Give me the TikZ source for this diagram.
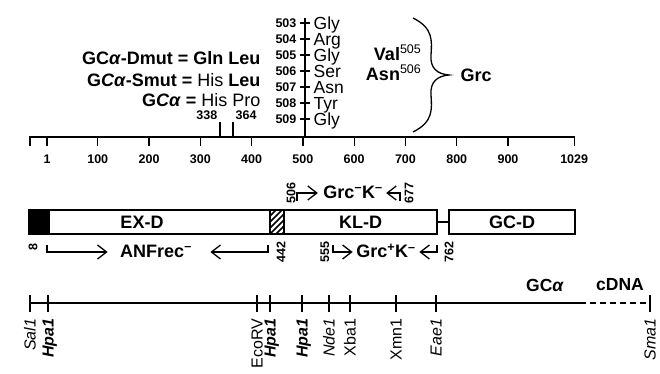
\documentclass[tikz,border=0pt]{standalone}
\usepackage{fontspec}
\setmainfont{Liberation Sans}
\usetikzlibrary{arrows.meta,positioning}
\newcommand\fsz[1]{\fontsize{#1}{#1}\selectfont}
\tikzset{
  bignote/.style={font=\fsz{18}\bfseries,inner sep=0pt},
  resid/.style={font=\fsz{17.5},inner sep=0pt},
  resnum/.style={font=\fsz{12.5}\bfseries,inner sep=0pt},
  axnum/.style={font=\fsz{12.5}\bfseries,inner sep=0pt},
  rotnum/.style={font=\fsz{12.5}\bfseries,inner sep=0pt,rotate=90},
  site/.style={font=\fsz{16},inner sep=0pt,rotate=90,anchor=base east},
  dombox/.style={draw,line width=1.3pt,minimum height=24pt,inner sep=0pt,font=\fsz{18}\bfseries},
  cons/.style={-{Straight Barb[length=9pt,width=14pt]}},
}

\begin{document}
\begin{tikzpicture}[x=1pt,y=-1pt,line width=1.3pt]
\useasboundingbox (0,0) rectangle (660,373);
% residues 503-509
\draw (305,18) -- (305,137);
\foreach \i/\aa in {0/Gly,1/Arg,2/Gly,3/Ser,4/Asn,5/Tyr,6/Gly}{
  \pgfmathtruncatemacro\num{503+\i}
  \draw (300,{23+16*\i}) -- (310,{23+16*\i});
  \node[resnum,anchor=base east] (n\num) at (297,{27.5+16*\i}) {\num};
  \node[resid,anchor=base west] (r\num) at (313,{29+16*\i}) {\aa};
}
\node[bignote,anchor=base east] (dmut) at (261,64) {GC\textit{α}-Dmut = Gln Leu};
\node[bignote,anchor=base east] (smut) at (261,86) {G\textit{Cα}-Smut = \mdseries His \bfseries Leu};
\node[bignote,anchor=base east] (wt) at (261,106) {G\textit{Cα} = \mdseries His Pro};
\node[bignote,anchor=base east] (val) at (422,60) {Val\textsuperscript{\mdseries\fsz{12.5}505}};
\node[bignote,anchor=base east] (asn) at (422,80) {Asn\textsuperscript{\mdseries\fsz{12.5}506}};
\draw (413,18) .. controls (433,28) and (432,40) .. (431,55)
  .. controls (430,68) and (437,74) .. (449,75)
  .. controls (437,76) and (430,82) .. (431,95)
  .. controls (432,110) and (433,122) .. (413,132);
\node[bignote,anchor=west] (grc) at (460,75) {Grc};
% residue axis
\draw (30,146) -- (30,137) -- (575,137);
\foreach \n in {1,100,200,300,400,500,600,700,800,900,1029}{
  \draw ({47+0.5128*(\n-1)},137) -- ++(0,9);
  \node[axnum,anchor=base] (ax\n) at ({47+0.5128*(\n-1)},163) {\n};
}
\draw (220,137) -- (220,122);
\draw (233,137) -- (233,122);
\node[axnum,anchor=base east] (p338) at (218,119) {338};
\node[axnum,anchor=base west] (p364) at (235,119) {364};
% domains
\draw[fill=black] (29,210) rectangle (49,234);
\draw (49,210) rectangle (270,234);
\node[bignote,anchor=base] (exd) at (142,228.5) {EX-D};
\begin{scope}
  \clip (270,210) rectangle (284,234);
  \foreach \k in {-6,...,3}
    \draw[line width=1.6pt] ({270+6*\k},234) -- ++(24,-24);
\end{scope}
\draw (270,210) rectangle (284,234);
\node[dombox,minimum width=153pt] (kl) at (360.5,222) {KL-D};
\node[dombox,minimum width=126pt] (gc) at (512,222) {GC-D};
\draw (kl.east) -- (gc.west);
% constructs
\node[rotnum,anchor=west] (s506) at (291,204) {506};
\node[bignote] (grcm) at (353,192) {Grc\textsuperscript{--}K\textsuperscript{--}};
\draw[cons] (297,201) |- ([xshift=-5pt,yshift=-1pt]grcm.west);
\draw[cons] (400,201) |- ([xshift=3pt,yshift=-1pt]grcm.east);
\node[rotnum,anchor=west] (s677) at (409,204) {677};
\node[rotnum] (s8) at (33,247) {8};
\node[bignote] (anf) at (156,251) {ANFrec\textsuperscript{--}};
\draw[cons] (47,245) |- ([xshift=-12pt,yshift=-1pt]anf.west);
\draw[cons] (268,245) |- ([xshift=18pt,yshift=-1pt]anf.east);
\node[rotnum,anchor=east] (s442) at (281,241) {442};
\node[rotnum,anchor=east] (s555) at (325,241) {555};
\node[bignote] (grcp) at (386,251) {Grc\textsuperscript{+}K\textsuperscript{--}};
\draw[cons] (333,245) |- ([xshift=-3pt,yshift=-1pt]grcp.west);
\draw[cons] (437,245) |- ([xshift=3pt,yshift=-1pt]grcp.east);
\node[rotnum,anchor=east] (s762) at (449,241) {762};
% restriction map
\draw (30,303) -- (580,303);
\draw[dash pattern=on 6pt off 4pt] (580,303) -- (648,303);
\foreach \x/\nm/\lab in {30/sal/\textit{Sal1},48/hpa/\textbf{\textit{Hpa1}},257/eco/EcoRV,
    270/hpb/\textbf{\textit{Hpa1}},302/hpc/\textbf{\textit{Hpa1}},329/nde/\textit{Nde1},
    350/xba/Xba1,396/xmn/Xmn1,436/eae/\textit{Eae1},650/sma/\textit{Sma1}}{
  \draw (\x,295) -- (\x,312);
  \node[site] (\nm) at ({\x+5.5},318) {\lab};
}
\node[bignote,font=\fsz{17.5}\bfseries] (gca) at (545,285) {GC\textit{α}};
\node[bignote,font=\fsz{17.5}\bfseries] (cdna) at (620,285) {cDNA};
\end{tikzpicture}
\end{document}
